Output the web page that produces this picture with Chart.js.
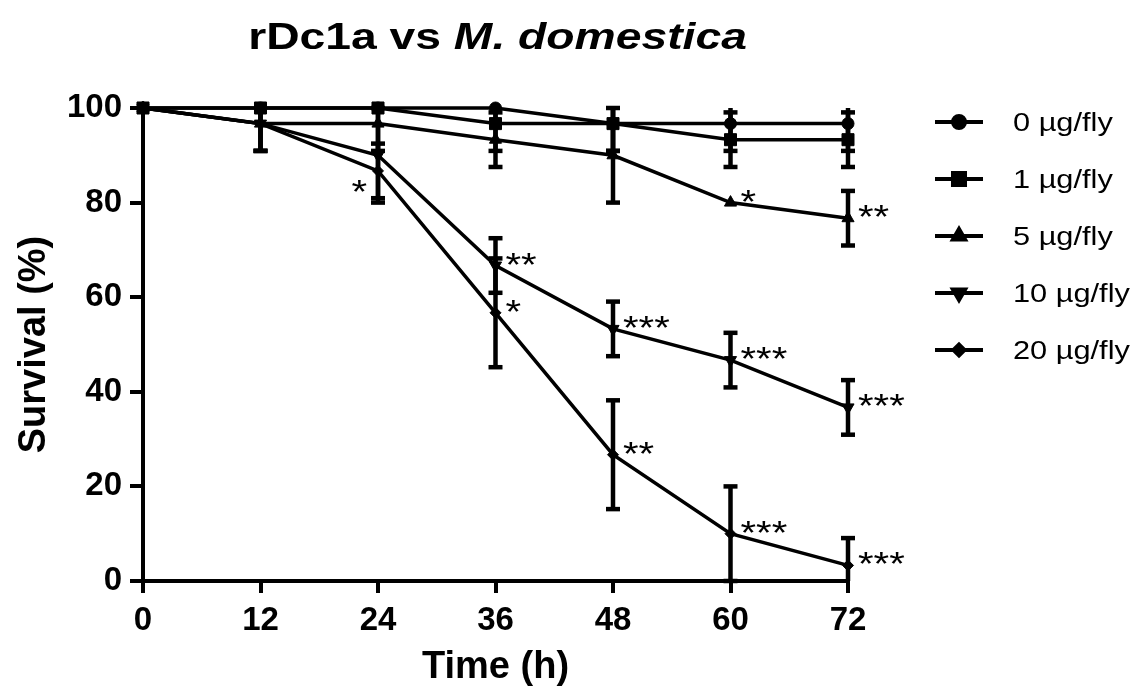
<!DOCTYPE html>
<html><head><meta charset="utf-8">
<script src="https://cdn.jsdelivr.net/npm/chart.js@4.4.0/dist/chart.umd.min.js"></script>
<style>html,body{margin:0;padding:0;background:#fff;}#wrap{width:1141px;height:689px;}</style>
</head><body><div id="wrap"><canvas id="c" width="1141" height="689"></canvas></div>
<script>
const times = [0, 12, 24, 36, 48, 60, 72];
const seriesNames = ['0 µg/fly', '1 µg/fly', '5 µg/fly', '10 µg/fly', '20 µg/fly'];
const dose0 = [100, 100, 100, 100, 96.7, 96.7, 96.7];
const dose0Err = [0, 0, 0, 0, 5.77, 5.77, 5.77];
const dose1 = [100, 100, 100, 96.7, 96.7, 93.3, 93.3];
const dose1Err = [0, 0, 0, 5.77, 5.77, 5.77, 5.77];
const dose5 = [100, 96.7, 96.7, 93.3, 90, 80, 76.7];
const dose5Err = [0, 5.77, 5.77, 5.77, 10, 0, 5.77];
const dose10 = [100, 96.7, 90, 66.7, 53.3, 46.7, 36.7];
const dose10Err = [0, 5.77, 10, 5.77, 5.77, 5.77, 5.77];
const dose20 = [100, 96.7, 86.7, 56.7, 26.7, 10, 3.3];
const dose20Err = [0, 5.77, 5.77, 11.5, 11.5, 10, 5.77];
const xTicks = [0, 12, 24, 36, 48, 60, 72];
const yTicks = [0, 20, 40, 60, 80, 100];
// significance marks
const sigSeries = [4, 3, 4, 3, 4, 2, 3, 4, 2, 3, 4];
const sigTimes = [24, 36, 36, 48, 48, 60, 60, 60, 72, 72, 72];
const sigLabels = ['*', '**', '*', '***', '**', '*', '***', '***', '**', '***', '***'];
const sigSide = ['left', 'right', 'right', 'right', 'right', 'right', 'right', 'right', 'right', 'right', 'right'];
const titleMain = 'rDc1a vs ';
const titleItalic = 'M. domestica';

const values = [dose0, dose1, dose5, dose10, dose20];
const errors = [dose0Err, dose1Err, dose5Err, dose10Err, dose20Err];
const styles = [
  {pointStyle: 'circle', radius: 6, rotation: 0},
  {pointStyle: 'rect', radius: 8.5, rotation: 0},
  {pointStyle: 'triangle', radius: 7, rotation: 0},
  {pointStyle: 'triangle', radius: 7, rotation: 180},
  {pointStyle: 'rectRot', radius: 5.5, rotation: 0}
];
const FONT = '"Liberation Sans", Arial, Helvetica, sans-serif';

const datasets = values.map((vals, i) => ({
  label: seriesNames[i],
  data: vals.map((v, j) => ({x: times[j], y: v})),
  borderColor: '#000',
  backgroundColor: '#000',
  borderWidth: 3.5,
  pointStyle: styles[i].pointStyle,
  pointRadius: styles[i].radius,
  pointRotation: styles[i].rotation,
  pointBackgroundColor: '#000',
  pointBorderColor: '#000',
  pointBorderWidth: 1,
  tension: 0,
  clip: false
}));

function stretchedText(ctx, text, x, y, sx, align) {
  const w = ctx.measureText(text).width * sx;
  let x0 = x;
  if (align === 'right') x0 = x - w;
  else if (align === 'center') x0 = x - w / 2;
  ctx.save();
  ctx.translate(x0, y);
  ctx.scale(sx, 1);
  ctx.textAlign = 'left';
  ctx.fillText(text, 0, 0);
  ctx.restore();
  return w;
}

const bgPlugin = {
  id: 'bg',
  beforeDraw(chart) {
    const ctx = chart.ctx;
    ctx.save();
    ctx.fillStyle = '#fff';
    ctx.fillRect(0, 0, chart.width, chart.height);
    ctx.restore();
  }
};

const errorBarPlugin = {
  id: 'errorBars',
  afterDatasetsDraw(chart) {
    const ctx = chart.ctx;
    const xs = chart.scales.x, ys = chart.scales.y;
    ctx.save();
    ctx.strokeStyle = '#000';
    ctx.lineCap = 'butt';
    values.forEach((vals, i) => {
      vals.forEach((v, j) => {
        const e = errors[i][j];
        if (!e) return;
        const lo = Math.max(ys.min, v - e), hi = Math.min(ys.max, v + e);
        const px = xs.getPixelForValue(times[j]);
        const pLo = ys.getPixelForValue(lo), pHi = ys.getPixelForValue(hi);
        ctx.lineWidth = 4.5;
        ctx.beginPath();
        ctx.moveTo(px, pLo);
        ctx.lineTo(px, pHi);
        ctx.stroke();
        const cap = 7;
        if (v + e <= ys.max) {
          ctx.beginPath(); ctx.moveTo(px - cap, pHi); ctx.lineTo(px + cap, pHi); ctx.stroke();
        }
        if (v - e >= ys.min) {
          ctx.beginPath(); ctx.moveTo(px - cap, pLo); ctx.lineTo(px + cap, pLo); ctx.stroke();
        }
      });
    });
    ctx.restore();
  }
};

const annotationPlugin = {
  id: 'sig',
  afterDatasetsDraw(chart) {
    const ctx = chart.ctx;
    const xs = chart.scales.x, ys = chart.scales.y;
    ctx.save();
    ctx.fillStyle = '#000';
    ctx.font = '34px ' + FONT;
    ctx.textBaseline = 'alphabetic';
    sigLabels.forEach((lab, k) => {
      const j = times.indexOf(sigTimes[k]);
      const v = values[sigSeries[k]][j];
      const px = xs.getPixelForValue(sigTimes[k]);
      const py = ys.getPixelForValue(v);
      if (sigSide[k] === 'left') {
        stretchedText(ctx, lab, px - 11, py + 32, 1.18, 'right');
      } else {
        stretchedText(ctx, lab, px + 10, py + 10, 1.18, 'left');
      }
    });
    ctx.restore();
  }
};

const titleLegendPlugin = {
  id: 'titleLegend',
  afterDraw(chart) {
    const ctx = chart.ctx;
    const area = chart.chartArea;
    ctx.save();
    ctx.fillStyle = '#000';
    ctx.textBaseline = 'alphabetic';
    // title
    const sx = 1.25;
    ctx.font = 'bold 37px ' + FONT;
    const w1 = ctx.measureText(titleMain).width * sx;
    ctx.font = 'italic bold 37px ' + FONT;
    const w2 = ctx.measureText(titleItalic).width * sx;
    const cx = (area.left + area.right) / 2 + 2;
    let x0 = cx - (w1 + w2) / 2;
    ctx.font = 'bold 37px ' + FONT;
    stretchedText(ctx, titleMain, x0, 49, sx, 'left');
    ctx.font = 'italic bold 37px ' + FONT;
    stretchedText(ctx, titleItalic, x0 + w1, 49, sx, 'left');
    // legend
    const lx = area.right + 87;
    const ly = 122;
    const gap = 57;
    seriesNames.forEach((name, i) => {
      const y = ly + i * gap;
      ctx.strokeStyle = '#000';
      ctx.lineWidth = 4;
      ctx.beginPath();
      ctx.moveTo(lx, y);
      ctx.lineTo(lx + 48, y);
      ctx.stroke();
      Chart.helpers.drawPoint(ctx, {
        pointStyle: styles[i].pointStyle,
        radius: styles[i].radius,
        rotation: styles[i].rotation,
        borderWidth: 1
      }, lx + 24, y);
      ctx.fill();
      ctx.font = '25px ' + FONT;
      stretchedText(ctx, name, lx + 78, y + 9, 1.23, 'left');
    });
    ctx.restore();
  }
};

new Chart(document.getElementById('c'), {
  type: 'line',
  data: {datasets},
  options: {
    responsive: false,
    animation: false,
    devicePixelRatio: 1,
    layout: {padding: {top: 108, right: 293, left: 0, bottom: 0}},
    plugins: {legend: {display: false}, title: {display: false}, tooltip: {enabled: false}},
    scales: {
      x: {
        type: 'linear',
        min: 0, max: 72,
        afterBuildTicks: s => { s.ticks = xTicks.map(v => ({value: v})); },
        afterFit: s => { s.height = 108; },
        ticks: {color: '#000', font: {family: FONT, size: 33, weight: 'bold'}, padding: 8, maxRotation: 0, autoSkip: false},
        grid: {drawOnChartArea: false, drawTicks: true, tickLength: 12, color: '#000', lineWidth: 4},
        border: {color: '#000', width: 4},
        title: {display: true, text: 'Time (h)', color: '#000', font: {family: FONT, size: 38, weight: 'bold', lineHeight: 1}, padding: {top: 0, bottom: 2}}
      },
      y: {
        type: 'linear',
        min: 0, max: 100,
        afterBuildTicks: s => { s.ticks = yTicks.map(v => ({value: v})); },
        afterFit: s => { s.width = 143; },
        ticks: {color: '#000', font: {family: FONT, size: 33, weight: 'bold'}, padding: 8, autoSkip: false},
        grid: {drawOnChartArea: false, drawTicks: true, tickLength: 13, color: '#000', lineWidth: 4},
        border: {color: '#000', width: 4},
        title: {display: true, text: 'Survival (%)', color: '#000', font: {family: FONT, size: 38, weight: 'bold', lineHeight: 1}, padding: {top: 16, bottom: 0}}
      }
    }
  },
  plugins: [bgPlugin, errorBarPlugin, annotationPlugin, titleLegendPlugin]
});
</script>
</body></html>
